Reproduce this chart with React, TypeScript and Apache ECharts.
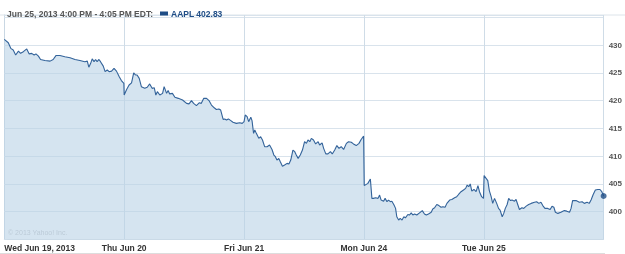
import React, { useEffect, useRef } from "react";
import * as echarts from "echarts";

const DAY_LABELS = ["Wed Jun 19, 2013", "Thu Jun 20", "Fri Jun 21", "Mon Jun 24", "Tue Jun 25"];
const MINUTES_PER_DAY = 390;
const Y_TICKS_SHOWN = [400, 405, 410, 415, 420, 425, 430];
const HEADER = "Jun 25, 2013 4:00 PM - 4:05 PM EDT:";
const TICKER = "AAPL";
const COPYRIGHT = "\u00a9 2013 Yahoo! Inc.";

// [minute of trading day, price]
const wedJun19: [number, number][] = [
  [0, 431.0], [13, 430.4], [21, 429.4], [29, 429.1], [37, 428.2], [46, 428.9], [53, 428.5], [62, 428.8],
  [73, 429.3], [81, 428.4], [89, 428.5], [97, 428.2], [103, 428.4], [111, 428.0], [118, 427.4], [132, 427.2],
  [149, 427.1], [159, 427.4], [168, 428.1], [181, 428.1], [197, 427.9], [214, 427.7], [230, 427.4], [246, 427.2],
  [262, 427.0], [270, 427.1], [275, 426.0], [281, 426.7], [286, 427.5], [292, 427.0], [297, 427.4], [302, 427.0],
  [308, 427.4], [313, 427.0], [322, 426.2], [328, 425.2], [335, 425.5], [341, 425.2], [349, 425.3], [357, 425.8],
  [365, 425.3], [374, 424.3], [381, 423.6], [389, 423.1],
];
const thuJun20: [number, number][] = [
  [0, 421.0], [8, 422.0], [16, 422.8], [24, 423.2], [31, 425.0], [37, 424.6], [42, 424.6], [49, 424.0],
  [56, 422.5], [67, 422.2], [75, 422.4], [83, 423.0], [91, 422.2], [98, 422.3], [103, 421.0], [108, 421.6],
  [116, 421.0], [125, 421.3], [130, 422.5], [138, 421.3], [143, 421.8], [148, 421.2], [157, 421.3], [165, 420.6],
  [176, 420.4], [190, 420.1], [203, 419.5], [211, 419.4], [219, 420.0], [226, 419.5], [235, 419.1], [244, 419.6],
  [251, 419.5], [259, 420.4], [268, 420.4], [276, 420.0], [284, 419.2], [293, 418.7], [300, 418.4], [308, 418.5],
  [314, 418.3], [322, 416.6], [327, 416.7], [333, 416.5], [339, 416.7], [347, 416.4], [354, 416.1], [365, 415.9],
  [376, 416.0], [384, 415.9],
];
const friJun21: [number, number][] = [
  [0, 416.2], [4, 417.4], [10, 417.1], [15, 416.2], [22, 417.0], [26, 416.4], [31, 414.1], [35, 414.7],
  [40, 414.1], [48, 413.2], [54, 413.5], [60, 412.9], [67, 411.7], [75, 411.7], [83, 412.0], [91, 411.2],
  [97, 410.2], [102, 409.9], [107, 409.3], [113, 409.6], [118, 409.0], [125, 408.2], [132, 408.4], [140, 408.7],
  [146, 408.6], [152, 409.3], [159, 411.1], [165, 410.8], [170, 410.2], [176, 409.6], [183, 410.2], [190, 411.1],
  [197, 412.6], [203, 412.3], [208, 412.9], [214, 412.6], [219, 413.2], [226, 412.9], [233, 412.2], [241, 412.6],
  [246, 412.0], [254, 412.4], [259, 411.4], [266, 410.4], [273, 410.4], [281, 410.8], [287, 410.4], [295, 411.1],
  [302, 411.9], [309, 411.4], [316, 411.7], [324, 411.2], [333, 412.3], [340, 412.6], [349, 412.5], [356, 412.2],
  [365, 411.9], [374, 412.3], [381, 413.0], [389, 413.6],
];
const monJun24: [number, number][] = [
  [1, 404.7], [13, 405.1], [21, 405.9], [26, 402.4], [31, 402.4], [38, 402.5], [46, 402.4], [51, 403.0],
  [56, 402.1], [64, 401.9], [69, 402.4], [75, 401.8], [80, 402.1], [86, 401.8], [91, 401.9], [98, 401.2],
  [103, 400.6], [107, 399.1], [113, 398.5], [118, 398.8], [124, 398.5], [130, 399.1], [135, 398.9], [143, 399.5],
  [148, 399.4], [154, 399.8], [159, 399.4], [165, 399.6], [172, 399.4], [181, 399.8], [190, 400.2], [197, 399.6],
  [203, 399.4], [210, 399.6], [219, 399.9], [224, 400.5], [230, 400.7], [237, 401.3], [244, 401.1], [251, 400.8],
  [257, 400.9], [264, 400.8], [270, 401.5], [279, 402.1], [286, 402.2], [295, 402.5], [302, 402.7], [308, 403.1],
  [316, 403.6], [324, 403.9], [331, 404.2], [336, 404.8], [341, 404.5], [346, 405.0], [351, 403.7], [358, 404.0],
  [365, 403.6], [371, 404.7], [376, 403.6], [383, 402.7], [389, 402.4],
];
const tueJun25: [number, number][] = [
  [1, 406.5], [13, 405.6], [18, 403.8], [24, 402.7], [29, 401.5], [35, 402.4], [42, 401.5], [48, 400.6],
  [53, 400.3], [60, 399.1], [65, 399.7], [70, 400.6], [76, 401.3], [81, 402.4], [87, 402.0], [92, 402.1],
  [100, 401.9], [105, 402.2], [111, 401.2], [116, 400.4], [124, 400.7], [130, 400.6], [138, 401.0], [146, 401.3],
  [154, 401.5], [165, 401.7], [172, 401.8], [179, 401.5], [186, 401.7], [192, 401.1], [199, 400.6], [208, 400.6],
  [216, 400.4], [222, 401.0], [228, 400.8], [233, 399.9], [241, 399.7], [251, 399.9], [262, 400.2], [270, 400.1],
  [279, 399.9], [284, 400.6], [289, 402.0], [300, 402.0], [311, 401.7], [320, 401.8], [327, 401.5], [336, 401.7],
  [343, 401.5], [349, 402.1], [356, 403.1], [363, 403.9], [371, 404.0], [378, 404.0], [384, 403.6], [390, 402.83],
];

const DAYS = [wedJun19, thuJun20, friJun21, monJun24, tueJun25];

export default function App() {
  const ref = useRef<HTMLDivElement>(null);
  useEffect(() => {
    if (!ref.current) return;
    const chart = echarts.init(ref.current, null, { renderer: "svg" });
    const data = DAYS.flatMap((day, i) => day.map(([m, p]) => [i * MINUTES_PER_DAY + m, p]));
    const last = data[data.length - 1];
    const font = "'Liberation Sans', Arial, sans-serif";
    const gridColor = "#d9e3ec";
    chart.setOption({
      animation: false,
      title: {
        text: HEADER,
        left: 2,
        top: 4,
        textStyle: { fontFamily: font, fontSize: 8.5, fontWeight: "bold", color: "#555555" },
      },
      legend: {
        data: [TICKER],
        left: 155,
        top: 4,
        icon: "rect",
        itemWidth: 8,
        itemHeight: 4,
        itemGap: 4,
        formatter: (name: string) => `${name} ${(last[1] as number).toFixed(2)}`,
        textStyle: { fontFamily: font, fontSize: 8.5, fontWeight: "bold", color: "#1f4d86", padding: [0, 0, 0, -2] },
      },
      grid: { left: 4.3, right: 20.7, top: 15, bottom: 14.5, containLabel: false },
      xAxis: {
        type: "value",
        min: 0,
        max: MINUTES_PER_DAY * DAY_LABELS.length,
        interval: MINUTES_PER_DAY,
        axisLine: { show: true, lineStyle: { color: "#d3dfe9" } },
        axisTick: { show: false },
        splitLine: { show: true, lineStyle: { color: "#cfdce7", width: 1 } },
        axisLabel: {
          margin: 4,
          alignMinLabel: "left",
          showMaxLabel: false,
          fontFamily: font,
          fontSize: 8.5,
          fontWeight: "bold",
          color: "#333333",
          formatter: (v: number) => DAY_LABELS[Math.round(v / MINUTES_PER_DAY)] ?? "",
        },
      },
      yAxis: {
        type: "value",
        position: "right",
        min: 395,
        max: 435.4,
        interval: 5,
        axisLine: { show: true, lineStyle: { color: "#c9d7e3" } },
        axisTick: { show: true, length: 3, lineStyle: { color: gridColor } },
        splitLine: { show: true, lineStyle: { color: gridColor, width: 1 } },
        axisLabel: {
          margin: 5,
          fontFamily: font,
          fontSize: 8,
          fontWeight: "bold",
          color: "#555555",
          formatter: (v: number) => (Y_TICKS_SHOWN.includes(Math.round(v * 10) / 10) ? String(v) : ""),
        },
      },
      series: [
        {
          name: TICKER,
          type: "line",
          data,
          showSymbol: false,
          symbol: "none",
          lineStyle: { color: "#33639a", width: 1.1 },
          itemStyle: { color: "#1f4d86" },
          areaStyle: { color: "rgb(185,210,230)", opacity: 0.6 },
          z: 3,
        },
        {
          name: "last",
          type: "scatter",
          data: [last],
          symbol: "circle",
          symbolSize: 6,
          itemStyle: { color: "#1f4d86" },
          z: 4,
        },
      ],
      graphic: [
        { type: "line", shape: { x1: 0, y1: 15, x2: 625, y2: 15 }, style: { stroke: "#dde4ea", lineWidth: 1 }, z: 0 },
        { type: "line", shape: { x1: 0, y1: 253.5, x2: 605, y2: 253.5 }, style: { stroke: "#dddddd", lineWidth: 1 } },
        {
          type: "text",
          left: 8,
          top: 229,
          style: { text: COPYRIGHT, fontFamily: font, fontSize: 7, fill: "#bccbd8" },
          z: 5,
        },
      ],
    });
    return () => chart.dispose();
  }, []);
  return <div ref={ref} style={{ position: "fixed", left: 0, top: 0, width: 625, height: 254 }} />;
}
